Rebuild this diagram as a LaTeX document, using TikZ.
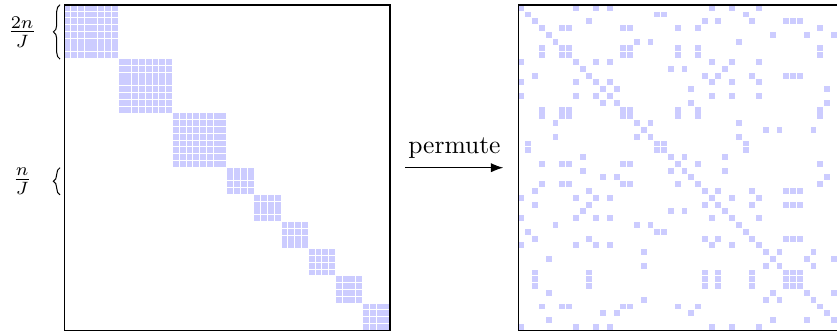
\documentclass[tikz,border=0pt]{standalone}
\usepackage{amsmath,amssymb}
\usepackage{tikz}
\usetikzlibrary{decorations.pathreplacing,arrows.meta}

\begin{document}
\begin{tikzpicture}[x=2.66pt, y=2.66pt,
  entry/.style={fill=blue!20},
  frame/.style={draw, line width=0.6pt, minimum size=127.68pt, inner sep=0pt, outer sep=0pt}]
  \clip (-9.47,-0.3) rectangle (113.8,48.7);
  % block diagonal matrix
  \foreach \s/\k in {0/8,8/8,16/8,24/4,28/4,32/4,36/4,40/4,44/4} {
    \foreach \i in {1,...,\k} {\foreach \j in {1,...,\k} {\fill[entry] (\s+\j-1,48.13-\s-\i) rectangle ++(0.87,0.87);}}}
  % same blocks after the permutation
  \foreach \g in {{0,8,11,13,28,31,35,47},{2,10,27,29,34,39,40,41},{3,6,7,15,16,23,26,44},
    {1,20,21,33},{4,37,42,46},{5,17,19,32},{9,22,24,30},{12,14,25,45},{18,36,38,43}} {
    \foreach \r in \g {\foreach \c in \g {\fill[entry] (66.9+\c,47.13-\r) rectangle ++(0.87,0.87);}}}
  \node[frame] (orig) at (24,24) {};
  \node[frame] (perm) at (90.9,24) {};
  \draw[-{Latex}, shorten <=5.8pt, shorten >=6pt] (orig) -- (perm) node[midway, above] {permute};
  \draw[decorate, decoration={brace, amplitude=2.6pt}] (-0.63,40) -- (-0.63,48);
  \draw[decorate, decoration={brace, amplitude=2.6pt}] (-0.63,20) -- (-0.63,24);
  \node (twonJ) at (-6.2,44) {$\frac{2n}{J}$};
  \node (nJ) at (-6.2,22) {$\frac{n}{J}$};
\end{tikzpicture}
\end{document}
